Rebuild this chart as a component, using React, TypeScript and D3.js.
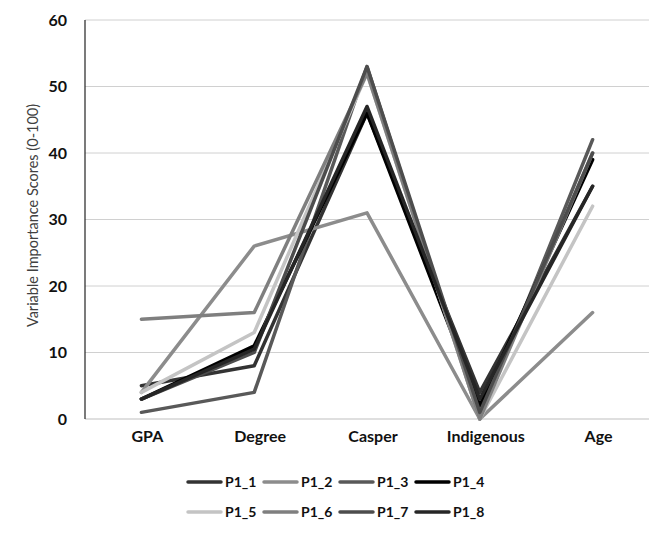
import React, { useRef, useEffect } from 'react';
import * as d3 from 'd3';

const categories = ['GPA', 'Degree', 'Casper', 'Indigenous', 'Age'];
const seriesNames = ['P1_1', 'P1_2', 'P1_3', 'P1_4', 'P1_5', 'P1_6', 'P1_7', 'P1_8'];
const seriesColors = ['#333333', '#8c8c8c', '#595959', '#000000', '#c4c4c4', '#7f7f7f', '#4d4d4d', '#262626'];

const p1_1 = [5, 8, 46, 4, 35];
const p1_2 = [4, 26, 31, 0, 16];
const p1_3 = [1, 4, 53, 0, 42];
const p1_4 = [3, 11, 46, 2, 39];
const p1_5 = [4, 13, 52, 0, 32];
const p1_6 = [15, 16, 52, 0, 40];
const p1_7 = [3, 10, 53, 1, 40];
const p1_8 = [3, 10.5, 47, 3, 35];
const seriesValues = [p1_1, p1_2, p1_3, p1_4, p1_5, p1_6, p1_7, p1_8];

const yTicks = [0, 10, 20, 30, 40, 50, 60];

export default function App() {
    const svgRef = useRef(null);

    useEffect(() => {
        if (!svgRef.current) return;
        const svg = d3.select(svgRef.current);
        svg.selectAll('*').remove();

        const left = 85, right = 649, top = 20, bottom = 419;
        const font = 'Lato, "Open Sans", sans-serif';

        const x = d3.scaleBand().domain(categories).range([left, right]);
        const y = d3.scaleLinear().domain([0, 60]).range([bottom, top]);

        // gridlines
        svg.append('g')
            .selectAll('line')
            .data(yTicks.filter(t => t > 0))
            .enter().append('line')
            .attr('x1', left).attr('x2', right)
            .attr('y1', d => y(d)).attr('y2', d => y(d))
            .attr('stroke', '#d0d0d0').attr('stroke-width', 1);

        // x axis line
        svg.append('line')
            .attr('x1', left).attr('x2', right)
            .attr('y1', bottom).attr('y2', bottom)
            .attr('stroke', '#c0c0c0').attr('stroke-width', 1.2);

        // y axis line
        svg.append('line')
            .attr('x1', left).attr('x2', left)
            .attr('y1', top).attr('y2', bottom)
            .attr('stroke', '#222').attr('stroke-width', 1.2);

        // y tick labels
        svg.append('g')
            .selectAll('text')
            .data(yTicks)
            .enter().append('text')
            .attr('x', 67).attr('y', d => y(d))
            .attr('dy', '0.35em')
            .attr('text-anchor', 'end')
            .attr('font-family', font).attr('font-weight', 700).attr('font-size', 16)
            .attr('fill', '#111')
            .text(d => d);

        // x tick labels
        svg.append('g')
            .selectAll('text')
            .data(categories)
            .enter().append('text')
            .attr('x', d => x(d) + x.bandwidth() / 2 + 6)
            .attr('y', 442)
            .attr('text-anchor', 'middle')
            .attr('font-family', font).attr('font-weight', 700).attr('font-size', 16)
            .attr('fill', '#111')
            .text(d => d);

        // y title
        svg.append('text')
            .attr('transform', `translate(38,${(top + bottom) / 2 - 4}) rotate(-90)`)
            .attr('text-anchor', 'middle')
            .attr('font-family', font).attr('font-size', 14.5)
            .attr('fill', '#404040')
            .text('Variable Importance Scores (0-100)');

        // lines
        const line = d3.line()
            .x((d, i) => x(categories[i]) + x.bandwidth() / 2)
            .y(d => y(d));

        svg.append('g')
            .selectAll('path')
            .data(seriesValues)
            .enter().append('path')
            .attr('d', d => line(d))
            .attr('fill', 'none')
            .attr('stroke', (d, i) => seriesColors[i])
            .attr('stroke-width', 3.5)
            .attr('stroke-linejoin', 'round')
            .attr('stroke-linecap', 'round');

        // legend
        const legend = svg.append('g')
            .selectAll('g')
            .data(seriesNames)
            .enter().append('g')
            .attr('transform', (d, i) => `translate(${187 + (i % 4) * 76},${i < 4 ? 482 : 512})`);

        legend.append('line')
            .attr('x1', 1).attr('x2', 34)
            .attr('stroke', (d, i) => seriesColors[i])
            .attr('stroke-width', 3.5)
            .attr('stroke-linecap', 'round');

        legend.append('text')
            .attr('x', 38).attr('dy', '0.35em')
            .attr('font-family', font).attr('font-weight', 700).attr('font-size', 14)
            .attr('fill', '#111')
            .text(d => d);
    }, []);

    return (
        <svg ref={svgRef} width={669} height={536} style={{ position: 'absolute', left: 0, top: 0, background: '#fff' }}></svg>
    );
}
